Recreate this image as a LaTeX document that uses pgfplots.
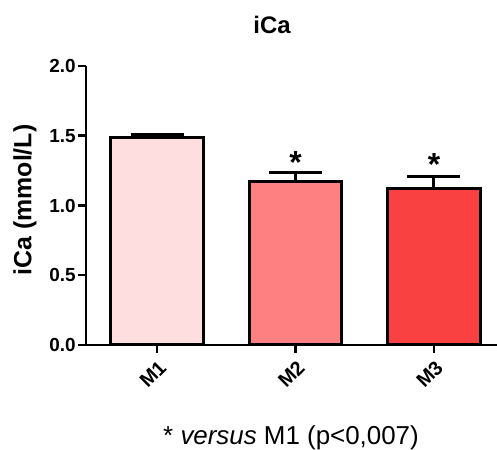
\documentclass[border=0pt]{standalone}
\usepackage{pgfplots}
\pgfplotsset{compat=1.18}
\usepackage{fontspec}
\setmainfont{Liberation Sans}
\definecolor{cA}{RGB}{255,222,224}
\definecolor{cB}{RGB}{255,128,128}
\definecolor{cC}{RGB}{250,65,65}
\begin{document}
\begin{tikzpicture}[x=1bp,y=1bp]
\useasboundingbox (0,0) rectangle (497,450);
\begin{axis}[
  at={(157bp,105bp)}, anchor=origin,
  scale only axis, width=411bp, height=279bp,
  xmin=-0.513, xmax=2.455, ymin=0, ymax=2,
  clip=false,
  ybar, bar shift=0pt, bar width=0.67,
  axis x line*=bottom, axis y line*=left,
  axis line style={line width=2.5bp, -},
  xtick={0,1,2}, xticklabels={M1,M2,M3},
  ytick={0,0.5,1,1.5,2},
  /pgf/number format/assume math mode=true,
  yticklabel style={/pgf/number format/fixed, /pgf/number format/fixed zerofill, /pgf/number format/precision=1, font=\bfseries\fontsize{19}{19}\selectfont, inner sep=2bp},
  xticklabel style={rotate=45, anchor=east, font=\bfseries\fontsize{20}{20}\selectfont, inner sep=0bp, yshift=-12bp, xshift=-4bp},
  tick align=outside, major tick length=8bp,
  tick style={line width=2.5bp, black},
]
\addplot[fill=cA, draw=black, line width=3bp,
  error bars/.cd, y dir=plus, y explicit,
  error bar style={line width=3bp, black},
  error mark options={rotate=90, line width=3bp, mark size=26.5bp, black}]
  coordinates {(0,1.49) +- (0,0.02)};
\addplot[fill=cB, draw=black, line width=3bp,
  error bars/.cd, y dir=plus, y explicit,
  error bar style={line width=3bp, black},
  error mark options={rotate=90, line width=3bp, mark size=26.5bp, black}]
  coordinates {(1,1.17) +- (0,0.07)};
\addplot[fill=cC, draw=black, line width=3bp,
  error bars/.cd, y dir=plus, y explicit,
  error bar style={line width=3bp, black},
  error mark options={rotate=90, line width=3bp, mark size=26.5bp, black}]
  coordinates {(2,1.123) +- (0,0.083)};
\node[anchor=base, font=\bfseries\fontsize{32}{32}\selectfont, inner sep=0pt] at (axis cs:1,1.226) {*};
\node[anchor=base, font=\bfseries\fontsize{32}{32}\selectfont, inner sep=0pt] at (axis cs:2,1.212) {*};
\end{axis}
\node[font=\bfseries\fontsize{24}{24}\selectfont] at (272,425) {iCa};
\node[rotate=90, font=\bfseries\fontsize{25}{25}\selectfont] at (25,250) {iCa (mmol/L)};
\node[anchor=base, font=\fontsize{26}{26}\selectfont, inner sep=0pt] at (291,5) {* \textit{versus} M1 (p<0,007)};
\end{tikzpicture}
\end{document}
